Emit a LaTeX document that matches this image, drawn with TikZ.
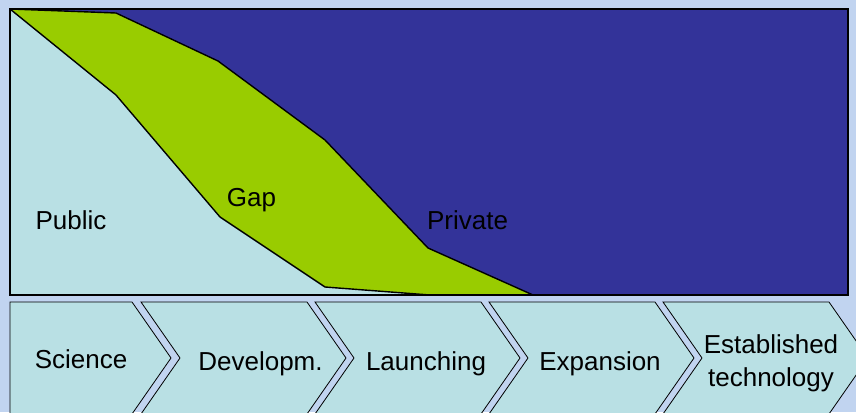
\documentclass[tikz,border=0pt]{standalone}
\usepackage{fontspec}
\setmainfont{Liberation Sans}
\definecolor{bgcol}{RGB}{193,212,240}
\definecolor{pubcol}{RGB}{185,224,228}
\definecolor{gapcol}{RGB}{153,204,0}
\definecolor{privcol}{RGB}{51,51,153}
\tikzset{
  lbl/.style={font=\fontsize{26}{33}\selectfont, text=black, inner sep=0pt, align=center},
  chev/.style={fill=pubcol, draw=black, line width=0.8pt, line join=miter},
  edge/.style={draw=black, line width=1.4pt, line join=round}
}

\begin{document}
\begin{tikzpicture}[x=1pt,y=-1pt]
				\useasboundingbox (0,0) rectangle (856,412);
				\fill[bgcol] (0,0) rectangle (856,412);
				\clip (0,0) rectangle (856,412);
				% upper chart
				\fill[privcol] (10,9) rectangle (848,295);
				\fill[gapcol] (10,9) -- (116,13) -- (218,61) -- (325,140) -- (428,248) -- (533,295) -- (10,295) -- cycle;
				\fill[pubcol] (10,9) -- (116,95) -- (220,217) -- (325,287) -- (430,295) -- (10,295) -- cycle;
				\draw[edge] (10,9) -- (116,13) -- (218,61) -- (325,140) -- (428,248) -- (533,295);
				\draw[edge] (10,9) -- (116,95) -- (220,217) -- (325,287) -- (430,295);
				\draw[line width=1.8pt] (10,9) rectangle (848,295);
				\node[lbl, anchor=base] (public) at (71,229) {Public};
				\node[lbl, anchor=base] (gap) at (251.5,206) {Gap};
				\node[lbl, anchor=base] (private) at (467.5,229) {Private};
				% phases
				\draw[chev] (10,302) -- (132,302) -- (171,358) -- (132,414) -- (10,414) -- cycle;
				\draw[chev] (141,302) -- (307,302) -- (346,358) -- (307,414) -- (141,414) -- (180,358) -- cycle;
				\draw[chev] (315,302) -- (481,302) -- (520,358) -- (481,414) -- (315,414) -- (354,358) -- cycle;
				\draw[chev] (489,302) -- (655,302) -- (694,358) -- (655,414) -- (489,414) -- (528,358) -- cycle;
				\draw[chev] (663,302) -- (829,302) -- (868,358) -- (829,414) -- (663,414) -- (702,358) -- cycle;
				\node[lbl, anchor=base] (science) at (81,368) {Science};
				\node[lbl, anchor=base] (develop) at (260.5,370) {Developm.};
				\node[lbl, anchor=base] (launch) at (426,370) {Launching};
				\node[lbl, anchor=base] (expand) at (600,370) {Expansion};
				\node[lbl, anchor=north] (established) at (771,334.5) {Established\\technology};
			\end{tikzpicture}
\end{document}
